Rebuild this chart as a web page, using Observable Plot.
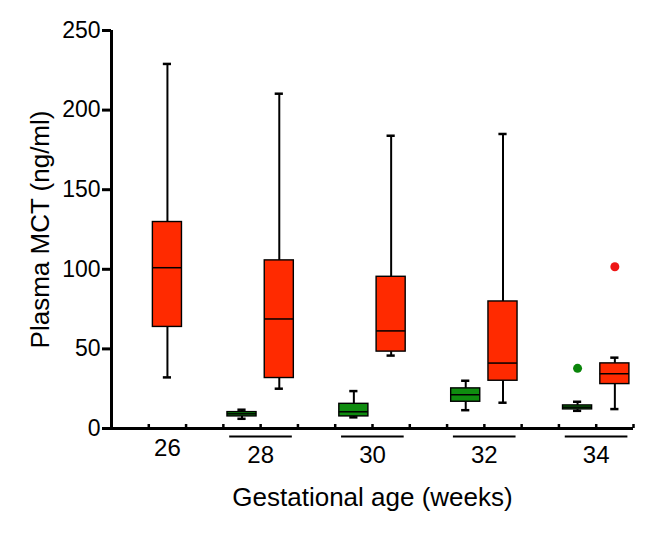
<!DOCTYPE html>
<html>
<head>
<meta charset="utf-8">
<script src="https://cdn.jsdelivr.net/npm/d3@7"></script>
<script src="https://cdn.jsdelivr.net/npm/@observablehq/plot@0.6"></script>
<style>
  html, body { margin: 0; padding: 0; background: #fff; }
  svg { display: block; }
</style>
</head>
<body>
<div id="chart"></div>
<script>
// Categories
const ages = ["26", "28", "30", "32", "34"];
// Red series (all ages)
const redMin    = [32.1, 25.0, 45.8, 16.2, 12.2];
const redQ1     = [63.8, 31.7, 48.3, 30.0, 27.9];
const redMedian = [101.0, 68.8, 61.3, 41.1, 34.4];
const redQ3     = [129.7, 105.6, 95.3, 79.8, 40.9];
const redMax    = [229.0, 210.3, 183.9, 185.0, 44.5];
// Green series (no data at 26 weeks)
const greenMin    = [null, 6.1, 7.0, 11.5, 11.1];
const greenQ1     = [null, 7.6, 7.6, 16.8, 12.0];
const greenMedian = [null, 9.2, 10.5, 21.2, 13.4];
const greenQ3     = [null, 10.3, 15.5, 25.2, 14.5];
const greenMax    = [null, 11.8, 23.5, 30.0, 16.8];
// Outliers
const outlierAge    = ["34", "34"];
const outlierSeries = ["green", "red"];
const outlierValue  = [37.8, 101.6];
// Axis ticks
const yTicks = [0, 50, 100, 150, 200, 250];
const xAxisTitle = "Gestational age (weeks)";
const yAxisTitle = "Plasma MCT (ng/ml)";

const RED = "#ff2a00", GREEN = "#0f8c0f";
const RED_DOT = "#ee1515", GREEN_DOT = "#0a850a";

// Layout on a slot axis: each age group takes 3 slots
const center = i => 1 + 3 * i;
const slot = (i, s) => center(i) + (s === "green" ? -0.5 : 0.5);

const boxes = [];
ages.forEach((a, i) => {
  if (greenMin[i] != null) boxes.push({age: a, series: "green", pos: slot(i, "green"),
    min: greenMin[i], q1: greenQ1[i], med: greenMedian[i], q3: greenQ3[i], max: greenMax[i]});
  boxes.push({age: a, series: "red", pos: slot(i, "red"),
    min: redMin[i], q1: redQ1[i], med: redMedian[i], q3: redQ3[i], max: redMax[i]});
});
const outliers = outlierAge.map((a, k) => ({
  pos: slot(ages.indexOf(a), outlierSeries[k]), series: outlierSeries[k], value: outlierValue[k]}));

const groups = ages.map((a, i) => ({age: a, i, hasGreen: greenMin[i] != null}));
const xTicks = d3.range(1, 3 * ages.length);

const hw = 0.39, cw = 0.11;
const font = "'Liberation Sans', Arial, Helvetica, sans-serif";

const chart = Plot.plot({
  width: 651,
  height: 533,
  marginLeft: 111,
  marginRight: 18,
  marginTop: 30,
  marginBottom: 105,
  x: {domain: [0, 3 * ages.length - 1]},
  y: {domain: [0, 250]},
  style: {fontFamily: font, color: "black", background: "white"},
  marks: [
    // whiskers
    Plot.ruleX(boxes, {x: "pos", y1: "q3", y2: "max", stroke: "black", strokeWidth: 2}),
    Plot.ruleX(boxes, {x: "pos", y1: "min", y2: "q1", stroke: "black", strokeWidth: 2}),
    Plot.ruleY(boxes, {y: "max", x1: d => d.pos - cw, x2: d => d.pos + cw, stroke: "black", strokeWidth: 2.5}),
    Plot.ruleY(boxes, {y: "min", x1: d => d.pos - cw, x2: d => d.pos + cw, stroke: "black", strokeWidth: 2.5}),
    // boxes
    Plot.rectY(boxes, {x1: d => d.pos - hw, x2: d => d.pos + hw, y1: "q1", y2: "q3",
      fill: d => d.series === "red" ? RED : GREEN, stroke: "black", strokeWidth: 1.4}),
    Plot.ruleY(boxes, {y: "med", x1: d => d.pos - hw, x2: d => d.pos + hw, stroke: "black", strokeWidth: 1.5}),
    // outliers
    Plot.dot(outliers, {x: "pos", y: "value", r: 4.5, fill: d => d.series === "red" ? RED_DOT : GREEN_DOT, stroke: "none"}),
    // y axis
    Plot.ruleX([0], {y1: 0, y2: 250, stroke: "black", strokeWidth: 3}),
    Plot.axisY({ticks: yTicks, tickFormat: d3.format("d"), tickSize: 9, tickPadding: 2,
      fontSize: 23, strokeWidth: 3, label: null}),
    // x axis
    Plot.ruleY([0], {x1: 0, x2: 3 * ages.length - 1, stroke: "black", strokeWidth: 3}),
    Plot.axisX({ticks: xTicks, tickSize: -4, tickFormat: () => "", strokeWidth: 2.5, label: null}),
    // group underlines
    Plot.ruleY(groups.filter(g => g.hasGreen), {y: 0, x1: g => center(g.i) - 0.83, x2: g => center(g.i) + 0.85,
      dy: 8, stroke: "black", strokeWidth: 1.8}),
    // group labels
    Plot.text(groups, {x: g => g.hasGreen ? center(g.i) : slot(g.i, "red"), y: 0,
      text: "age", fontSize: 24, lineAnchor: "middle"}),
    // axis titles
    Plot.text([xAxisTitle], {frameAnchor: "bottom", dy: 69, fontSize: 26, lineAnchor: "middle"}),
    Plot.text([yAxisTitle], {frameAnchor: "left", dx: -71, rotate: -90, fontSize: 26,
      textAnchor: "middle", lineAnchor: "middle"})
  ]
});

// Group labels: shift 26 (no underline) less than the underlined groups
d3.select(chart).selectAll("g[aria-label='text']").filter((d, i) => i === 0).selectAll("text")
  .attr("dy", (d, i) => groups[i].hasGreen ? 27 : 20);

document.getElementById("chart").appendChild(chart);
</script>
</body>
</html>
